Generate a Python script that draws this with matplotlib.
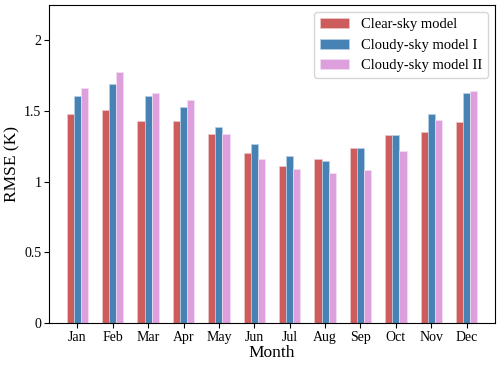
import matplotlib.pyplot as plt
import numpy as np

months = ['Jan', 'Feb', 'Mar', 'Apr', 'May', 'Jun', 'Jul', 'Aug', 'Sep', 'Oct', 'Nov', 'Dec']
clear_sky = [1.48, 1.51, 1.43, 1.43, 1.34, 1.20, 1.11, 1.16, 1.24, 1.33, 1.35, 1.42]
cloudy_1 = [1.61, 1.69, 1.61, 1.53, 1.39, 1.27, 1.18, 1.15, 1.24, 1.33, 1.48, 1.63]
cloudy_2 = [1.66, 1.78, 1.63, 1.58, 1.34, 1.16, 1.09, 1.06, 1.08, 1.22, 1.44, 1.64]

plt.rcParams['font.family'] = ['Liberation Serif', 'DejaVu Serif']

fig = plt.figure(figsize=(5, 3.65), dpi=100)
ax = fig.add_axes([0.098, 0.115, 0.892, 0.871])

x = np.arange(len(months))
w = 0.2
ax.bar(x - w, clear_sky, w, color='#cd5c5c', edgecolor='#f0c8c8', linewidth=0.5, label='Clear-sky model')
ax.bar(x, cloudy_1, w, color='#4682b4', edgecolor='#b8d0e8', linewidth=0.5, label='Cloudy-sky model I')
ax.bar(x + w, cloudy_2, w, color='#dda0dd', edgecolor='#f4e0f4', linewidth=0.5, label='Cloudy-sky model II')

ax.set_xticks(x)
ax.set_xticklabels(months)
ax.set_xlim(-0.8, 11.8)
ax.set_ylim(0, 2.25)
ax.set_yticks([0, 0.5, 1, 1.5, 2])
ax.set_yticklabels(['0', '0.5', '1', '1.5', '2'])
ax.tick_params(labelsize=10, pad=2)
ax.set_xlabel('Month', fontsize=12.5, labelpad=1)
ax.set_ylabel('RMSE (K)', fontsize=12.5, labelpad=3)
ax.legend(loc='upper right', fontsize=10.5)

plt.savefig('out.png', dpi=100)
